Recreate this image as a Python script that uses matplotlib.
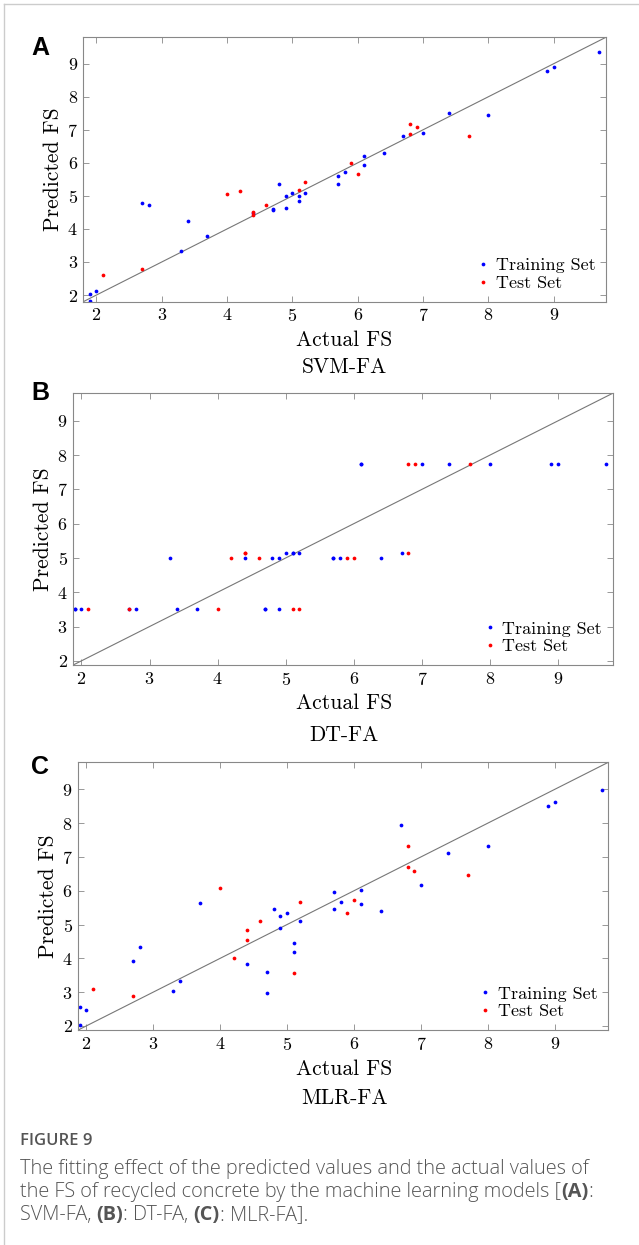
import matplotlib
matplotlib.use("Agg")
import matplotlib.pyplot as plt
from matplotlib.lines import Line2D

plt.rcParams['font.family'] = ['cmr10', 'DejaVu Serif']
plt.rcParams['mathtext.fontset'] = 'cm'
plt.rcParams['axes.formatter.use_mathtext'] = True
plt.rcParams['axes.unicode_minus'] = False

# actual FS values (shared by all models)
train_x = [1.9, 1.9, 2.0, 2.7, 2.8, 3.3, 3.4, 3.7, 4.4, 4.7, 4.7, 4.8, 4.9, 4.9, 5.0, 5.1,
           5.1, 5.2, 5.7, 5.7, 5.8, 6.1, 6.1, 6.4, 6.7, 7.0, 7.4, 8.0, 8.9, 9.0, 9.7]
test_x = [2.1, 2.7, 4.0, 4.2, 4.4, 4.4, 4.6, 5.1, 5.2, 5.9, 6.0, 6.8, 6.8, 6.9, 7.7]

# predicted FS, SVM-FA
svm_train = [2.04, 1.82, 2.11, 4.77, 4.72, 3.33, 4.25, 3.80, 4.47, 4.59, 4.57, 5.35, 5.00, 4.64, 5.10, 5.00,
             4.85, 5.10, 5.61, 5.36, 5.72, 6.22, 5.92, 6.30, 6.80, 6.90, 7.51, 7.46, 8.77, 8.90, 9.35]
svm_test = [2.60, 2.79, 5.06, 5.14, 4.51, 4.43, 4.71, 5.18, 5.41, 6.00, 5.66, 7.16, 6.86, 7.09, 6.82]

# predicted FS, DT-FA
dt_train = [3.5, 3.5, 3.5, 3.5, 3.5, 5.0, 3.5, 3.5, 5.0, 3.5, 3.5, 5.0, 5.0, 3.5, 5.15, 5.15,
            5.15, 5.15, 5.0, 5.0, 5.0, 7.75, 7.75, 5.0, 5.15, 7.75, 7.75, 7.75, 7.75, 7.75, 7.75]
dt_test = [3.5, 3.5, 3.5, 5.0, 5.15, 5.15, 5.0, 3.5, 3.5, 5.0, 5.0, 7.75, 5.15, 7.75, 7.75]

# predicted FS, MLR-FA
mlr_train = [2.57, 2.04, 2.46, 3.91, 4.33, 3.04, 3.32, 5.65, 3.83, 3.60, 2.98, 5.46, 5.24, 4.89, 5.33, 4.46,
             4.19, 5.09, 5.97, 5.46, 5.67, 6.02, 5.60, 5.41, 7.94, 6.18, 7.11, 7.32, 8.51, 8.62, 8.99]
mlr_test = [3.09, 2.88, 6.07, 4.02, 4.84, 4.54, 5.09, 3.56, 5.67, 5.34, 5.72, 7.31, 6.70, 6.59, 6.48]

panels = [
    ("A", "SVM-FA", svm_train, svm_test, [0.1304, 0.7577, 0.818, 0.2124], 1.8, 48, 340, 367),
    ("B", "DT-FA", dt_train, dt_test, [0.1147, 0.4659, 0.8441, 0.2182], 1.88, 393, 703, 735),
    ("C", "MLR-FA", mlr_train, mlr_test, [0.1225, 0.1727, 0.8294, 0.215], 1.88, 767, 1069, 1098),
]

H = 1245.0
fig = plt.figure(figsize=(6.39, 12.45), dpi=100)

for letter, name, ytr, yte, pos, lo, ly, xl_y, nm_y in panels:
    ax = fig.add_axes(pos)
    ax.plot([lo, 9.8], [lo, 9.8], color='#777777', lw=0.8)
    ax.plot(train_x, ytr, 'o', color='blue', ms=2.7, mew=0, label='Training Set')
    ax.plot(test_x, yte, 'o', color='red', ms=2.7, mew=0, label='Test Set')
    ax.set_xlim(lo, 9.8)
    ax.set_ylim(lo, 9.8)
    ax.set_xticks(range(2, 10))
    ax.set_yticks(range(2, 10))
    ax.tick_params(direction='in', top=True, right=True, length=4, width=0.6,
                   color='#888888', labelsize=13, pad=4)
    for s in ax.spines.values():
        s.set_color('#888888')
        s.set_linewidth(0.8)
    ax.set_ylabel('Predicted FS', fontsize=15.5, labelpad=3)
    ax.legend(loc='lower right', frameon=False, fontsize=13, handlelength=0.6,
              handletextpad=0.4, borderaxespad=0.2, labelspacing=0.1, markerscale=1.0)
    fig.text(344 / 639, 1 - xl_y / H, 'Actual FS', ha='center', va='center', fontsize=15.5)
    fig.text(344 / 639, 1 - nm_y / H, name, ha='center', va='center', fontsize=15.5)
    fig.text(40 / 639, 1 - ly / H, letter, ha='center', va='center', fontsize=18,
             fontweight='bold', family='Liberation Sans')

# thin frame on the left and top of the page
fig.add_artist(Line2D([4 / 639, 4 / 639], [0, 1 - 4 / H], color='#cccccc', lw=1))
fig.add_artist(Line2D([4 / 639, 1], [1 - 4 / H, 1 - 4 / H], color='#cccccc', lw=1))

# caption
cap_color = '#555555'
fig.text(20 / 639, 1 - 1141 / H, 'FIGURE 9', fontsize=12, color=cap_color,
         family='Open Sans', fontweight='semibold', va='center')

lines = [
    [("The fitting effect of the predicted values and the actual values of", False)],
    [("the FS of recycled concrete by the machine learning models [", False), ("(A)", True), (":", False)],
    [("SVM-FA, ", False), ("(B)", True), (": DT-FA, ", False), ("(C)", True), (": MLR-FA].", False)],
]
line_y = [1169, 1192, 1215]
renderer = fig.canvas.get_renderer()
for parts, yy in zip(lines, line_y):
    x = 20.0
    for txt, bold in parts:
        t = fig.text(x / 639, 1 - yy / H, txt, fontsize=14.3, color=cap_color, family='Open Sans',
                     fontweight='bold' if bold else 'light', va='center')
        bb = t.get_window_extent(renderer=renderer)
        x += bb.width

fig.savefig('out.png', dpi=100)
